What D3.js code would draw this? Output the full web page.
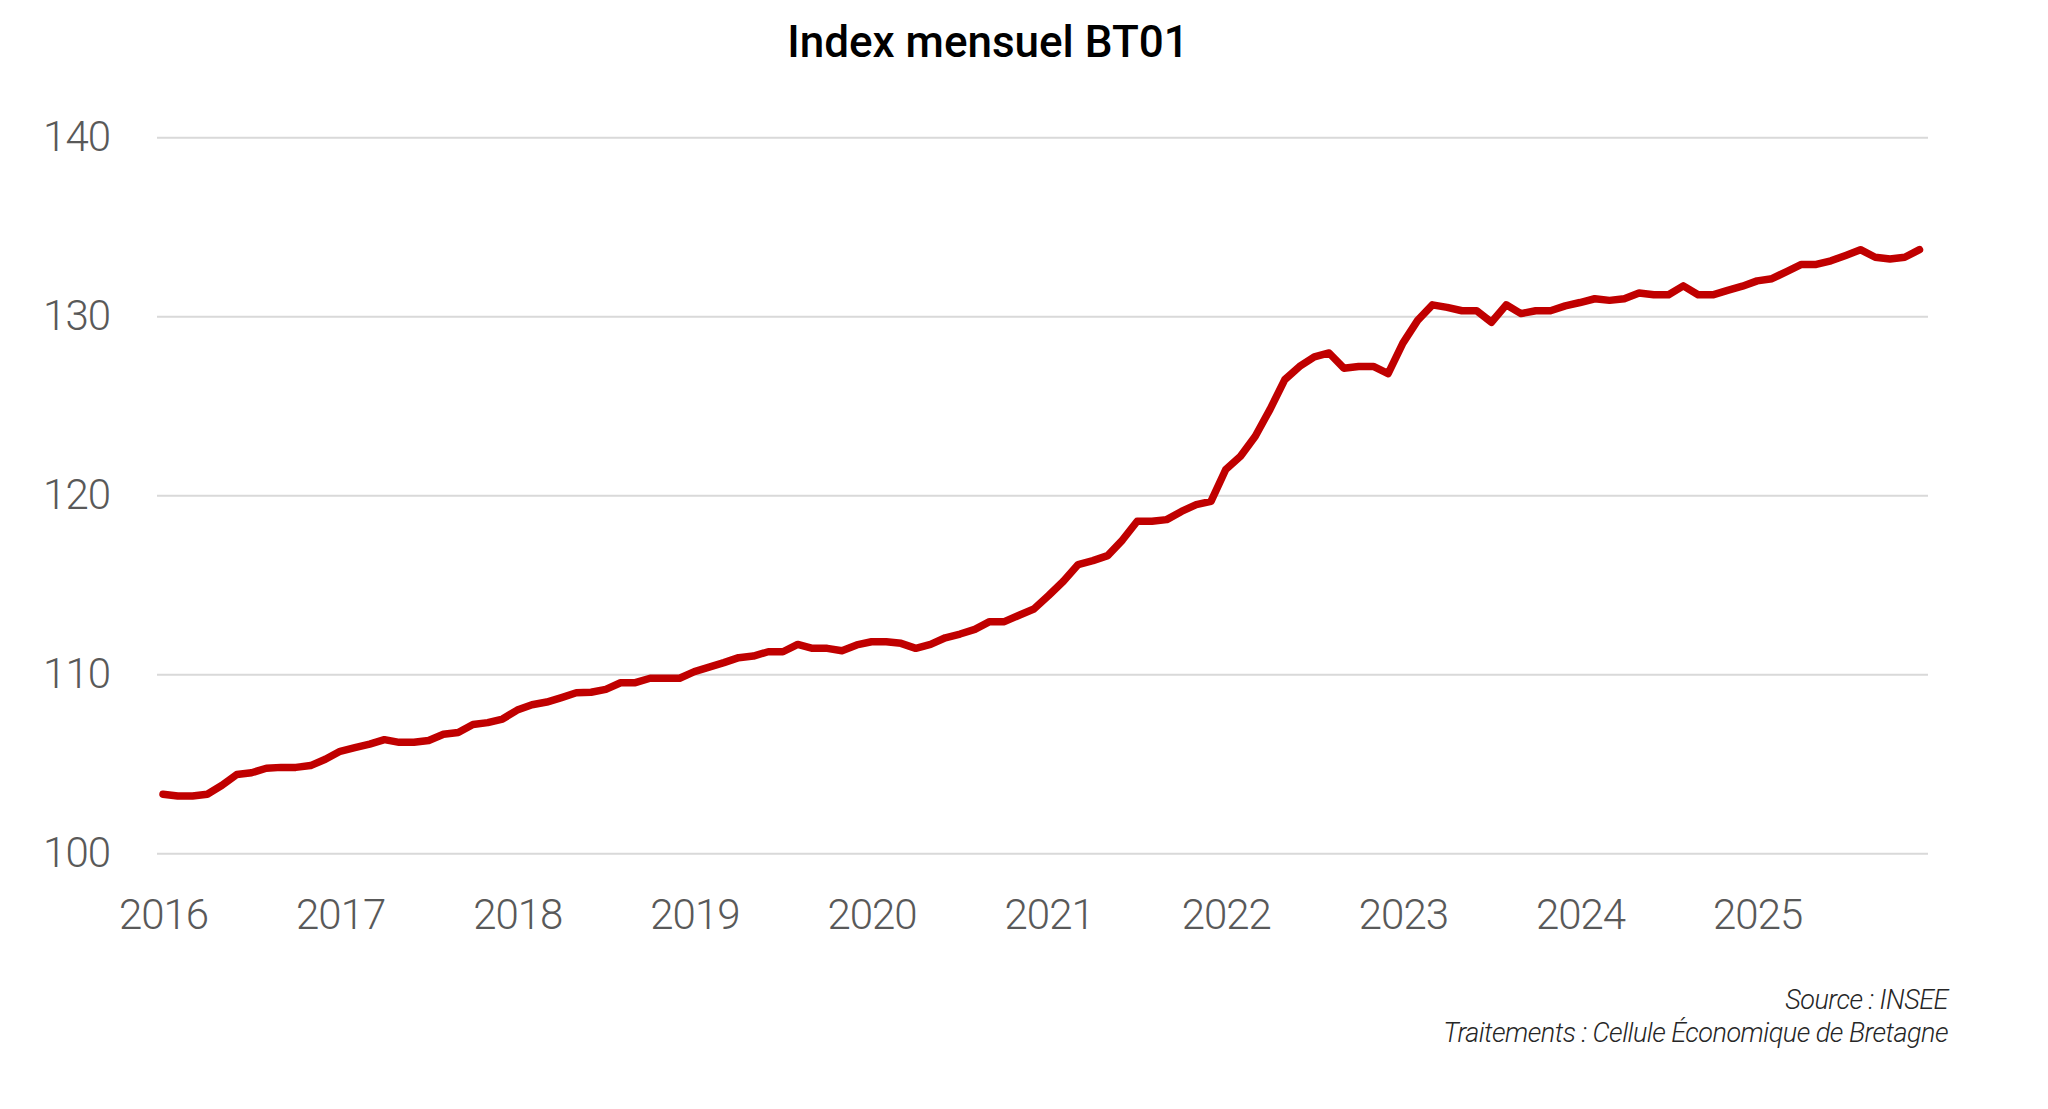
<!DOCTYPE html>
<html>
<head>
<meta charset="utf-8">
<script src="https://cdn.jsdelivr.net/npm/d3@7"></script>
<style>
  html, body { margin: 0; padding: 0; background: #ffffff; }
  svg { display: block; }
</style>
</head>
<body>
<svg id="chart" width="2048" height="1109"></svg>
<script>
// ---- Data ----
const title = "Index mensuel BT01";
const years = ["2016", "2017", "2018", "2019", "2020", "2021", "2022", "2023", "2024", "2025"];
const yTicks = [100, 110, 120, 130, 140];
const sourceLines = ["Source : INSEE", "Traitements : Cellule Économique de Bretagne"];

const values2016 = [103.3, 103.2, 103.2, 103.3, 103.8, 104.4, 104.5, 104.75, 104.8, 104.8, 104.9, 105.25];
const values2017 = [105.7, 105.9, 106.1, 106.35, 106.2, 106.2, 106.3, 106.65, 106.75, 107.2, 107.3, 107.5];
const values2018 = [108.0, 108.3, 108.45, 108.7, 108.97, 109.0, 109.16, 109.53, 109.53, 109.78, 109.78, 109.78];
const values2019 = [110.15, 110.4, 110.65, 110.93, 111.02, 111.26, 111.26, 111.67, 111.45, 111.45, 111.32, 111.64];
const values2020 = [111.82, 111.82, 111.73, 111.45, 111.67, 112.04, 112.25, 112.51, 112.94, 112.94, 113.3, 113.65];
const values2021 = [114.4, 115.2, 116.13, 116.35, 116.63, 117.5, 118.55, 118.55, 118.64, 119.1, 119.48, 119.66];
const values2022 = [121.44, 122.18, 123.3, 124.8, 126.46, 127.2, 127.73, 127.95, 127.1, 127.2, 127.2, 126.8];
const values2023 = [128.5, 129.77, 130.64, 130.5, 130.31, 130.31, 129.67, 130.64, 130.15, 130.31, 130.31, 130.58];
const values2024 = [130.77, 130.98, 130.89, 130.98, 131.3, 131.2, 131.2, 131.7, 131.2, 131.2, 131.45, 131.68];
const values2025 = [131.98, 132.1, 132.5, 132.9, 132.9, 133.1, 133.4, 133.72, 133.3, 133.2, 133.3, 133.72];

const monthly = [].concat(values2016, values2017, values2018, values2019, values2020,
                          values2021, values2022, values2023, values2024, values2025);
const series = monthly.map((v, i) => ({ i, v }));

// ---- Layout ----
const svg = d3.select("#chart");
const x = d3.scaleLinear().domain([0, monthly.length - 1]).range([163, 1919.5]);
const y = d3.scaleLinear().domain([100, 140]).range([853.3, 137.3]);
const gridX0 = 157, gridX1 = 1928;
const fontStack = "Roboto, 'Noto Sans', 'DejaVu Sans', sans-serif";

// Title
svg.append("text")
  .attr("x", 988).attr("y", 57)
  .attr("text-anchor", "middle")
  .attr("font-family", fontStack)
  .attr("font-weight", 500)
  .attr("font-size", 44)
  .attr("fill", "#000000")
  .text(title);

// Gridlines
const grid = svg.append("g")
  .attr("transform", `translate(${gridX0},0)`)
  .call(d3.axisLeft(y).tickValues(yTicks).tickSize(-(gridX1 - gridX0)).tickFormat(""));
grid.select(".domain").remove();
grid.selectAll(".tick line").attr("stroke", "#d9d9d9").attr("stroke-width", 2);

// Y axis labels
const yAxis = svg.append("g")
  .attr("transform", "translate(110,0)")
  .call(d3.axisLeft(y).tickValues(yTicks).tickSize(0).tickPadding(0).tickFormat(d3.format("d")));
yAxis.select(".domain").remove();
yAxis.selectAll(".tick text")
  .attr("font-family", fontStack)
  .attr("font-weight", 300)
  .attr("font-size", 42)
  .attr("letter-spacing", -1)
  .attr("fill", "#595959")
  .attr("dy", null)
  .attr("y", 13)
  .attr("text-anchor", "end");

// X axis labels (one per January)
const yearIdx = years.map((_, k) => k * 12);
const xAxis = svg.append("g")
  .attr("transform", "translate(0,853.3)")
  .call(d3.axisBottom(x).tickValues(yearIdx).tickSize(0).tickPadding(0)
        .tickFormat((d) => years[d / 12]));
xAxis.select(".domain").remove();
xAxis.selectAll(".tick text")
  .attr("font-family", fontStack)
  .attr("font-weight", 300)
  .attr("font-size", 42)
  .attr("letter-spacing", -1)
  .attr("fill", "#595959")
  .attr("dy", null)
  .attr("y", 76);

// Line
const line = d3.line().x(d => x(d.i)).y(d => y(d.v));
svg.append("path")
  .datum(series)
  .attr("d", line)
  .attr("fill", "none")
  .attr("stroke", "#C00000")
  .attr("stroke-width", 7.5)
  .attr("stroke-linejoin", "round")
  .attr("stroke-linecap", "round");

// Source notes
svg.append("g").selectAll("text")
  .data(sourceLines)
  .join("text")
  .attr("x", 1948)
  .attr("y", (d, k) => 1009 + k * 33)
  .attr("text-anchor", "end")
  .attr("font-family", fontStack)
  .attr("font-weight", 300)
  .attr("font-style", "italic")
  .attr("font-size", 27)
  .attr("letter-spacing", -0.5)
  .attr("fill", "#262626")
  .text(d => d);
</script>
</body>
</html>
